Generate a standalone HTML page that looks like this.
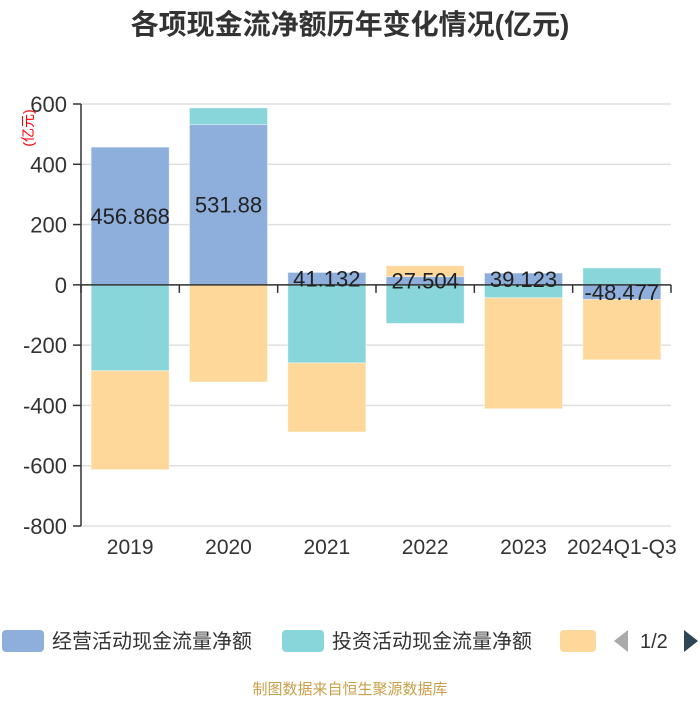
<!DOCTYPE html>
<html><head><meta charset="utf-8"><style>
body{margin:0;background:#fff;}
svg text{font-family:"Liberation Sans","Noto Sans CJK SC",sans-serif;}
</style></head><body>
<svg width="700" height="700" id="chart">
<text x="350" y="34" text-anchor="middle" font-size="28" font-weight="bold" fill="#333">各项现金流净额历年变化情况(亿元)</text>
<text transform="translate(33,128) rotate(-90)" text-anchor="middle" font-size="14" fill="#f00">(亿元)</text>
<g id="grid"></g><g id="bars"></g><g id="axes"></g><g id="labels"></g>
<g>
<rect x="2" y="630" width="42" height="22" rx="4" fill="#8eaedb"/>
<text x="52" y="648" font-size="20" fill="#333">经营活动现金流量净额</text>
<rect x="282" y="630" width="42" height="22" rx="4" fill="#88d6d9"/>
<text x="332" y="648" font-size="20" fill="#333">投资活动现金流量净额</text>
<rect x="560" y="630" width="36" height="22" rx="4" fill="#fed89a"/>
<path d="M628 630 L614 641 L628 652 Z" fill="#aaa"/>
<text x="640" y="648" font-size="20" fill="#333">1/2</text>
<path d="M684 630 L698 641 L684 652 Z" fill="#2f4554"/>
</g>
<text x="350" y="694" text-anchor="middle" font-size="15" fill="#c8a04a">制图数据来自恒生聚源数据库</text>
</svg>
<script>
const categories=["2019","2020","2021","2022","2023","2024Q1-Q3"];
const operating=[456.868,531.88,41.132,27.504,39.123,-48.477];
const investing=[-285,55,-259,-128,-43,56];
const financing=[-328,-322,-229,36,-368,-200];
const opLabels=["456.868","531.88","41.132","27.504","39.123","-48.477"];
const yTicks=[600,400,200,0,-200,-400,-600,-800];
const NS="http://www.w3.org/2000/svg";
const x0=81,x1=671,yMax=600,yMin=-800,py0=104,py1=526;
const y=v=>py0+(yMax-v)/(yMax-yMin)*(py1-py0);
const band=(x1-x0)/categories.length;
const cx=i=>x0+band*(i+0.5);
function mk(tag,attrs,parent){const e=document.createElementNS(NS,tag);for(const k in attrs)e.setAttribute(k,attrs[k]);document.getElementById(parent).appendChild(e);return e;}
yTicks.forEach(t=>{
 const l=mk('line',{x1:x0,x2:x1,y1:y(t),y2:y(t),stroke:'#e0e0e0','stroke-width':1.5},'grid');
 
 
 const tk=mk('line',{x1:x0-8,x2:x0,y1:y(t),y2:y(t),stroke:'#333','stroke-width':1.5},'axes');
 
 
 const tx=mk('text',{x:x0-14,y:y(t)+8,'text-anchor':'end','font-size':22,fill:'#333'},'axes');
 tx.textContent=t;
 
 
});
const series=[[operating,'#8eaedb','bar-operating'],[investing,'#88d6d9','bar-investing'],[financing,'#fed89a','bar-financing']];
const bw=78;
categories.forEach((c,i)=>{
 let pos=0,neg=0;
 series.forEach(([arr,col,name])=>{
  const v=arr[i];let a,b;
  if(v>=0){a=pos;b=pos+v;pos=b;}else{a=neg;b=neg+v;neg=b;}
  const top=Math.min(y(a),y(b)),h=Math.abs(y(a)-y(b));
  const r=mk('rect',{x:cx(i)-bw/2,y:top,width:bw,height:h,fill:col,stroke:'#fff','stroke-opacity':0.4},'bars');
  
  
 });
 const lt=mk('text',{x:cx(i),y:y(operating[i]/2)+8,'text-anchor':'middle','font-size':22,fill:'#222'},'labels');
 lt.textContent=opLabels[i];
 
 
 const xl=mk('text',{x:cx(i),y:554,'text-anchor':'middle','font-size':21,fill:'#333'},'axes');
 xl.textContent=c;
 
 
});
for(let i=0;i<=categories.length;i++){
 const t=mk('line',{x1:x0+band*i,x2:x0+band*i,y1:y(0),y2:y(0)+8,stroke:'#333','stroke-width':1.5},'axes');
 
 
}
const xa=mk('line',{x1:x0,x2:x1,y1:y(0),y2:y(0),stroke:'#333','stroke-width':1.5},'axes');


const ya=mk('line',{x1:x0,x2:x0,y1:py0,y2:py1,stroke:'#333','stroke-width':1.5},'axes');


</script>
</body></html>
